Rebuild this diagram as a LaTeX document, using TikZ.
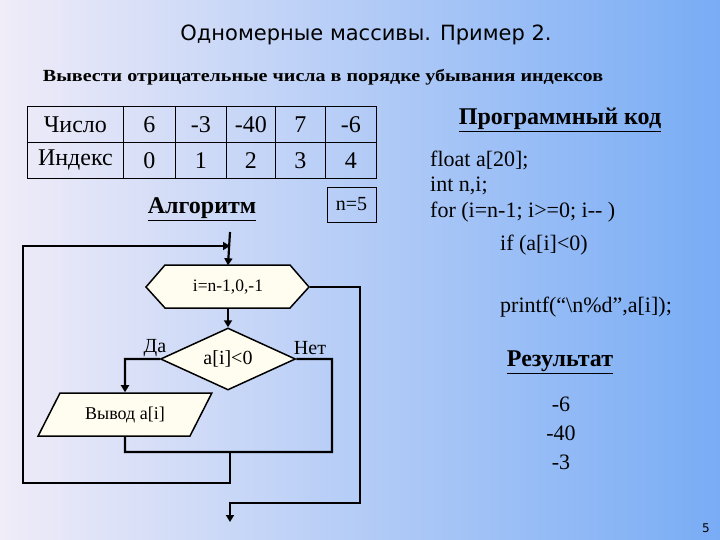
\documentclass[tikz,border=0pt]{standalone}
\usepackage{fontspec}
\setmainfont{Liberation Serif}
\newfontfamily\titlefont{DejaVu Sans}
\usetikzlibrary{shapes.geometric,arrows.meta}
\definecolor{bgl}{RGB}{240,236,248}
\definecolor{bgr}{RGB}{120,172,245}
\definecolor{fillc}{RGB}{255,253,240}
\tikzset{
 fl/.style={line width=2.2pt},
 arr/.style={fl,-{Triangle[length=7pt,width=8pt]}},
 shp/.style={draw,line width=1.5pt,fill=fillc},
 cell/.style={draw,line width=0.8pt,minimum height=36pt,font=\fontsize{24}{24}\selectfont,inner sep=0pt},
 code/.style={anchor=west,font=\fontsize{22}{22}\selectfont,inner sep=0pt},
 head/.style={font=\bfseries\fontsize{24}{24}\selectfont},
 res/.style={font=\fontsize{22}{22}\selectfont},
}
\begin{document}
\begin{tikzpicture}[x=1pt,y=-1pt]
\shade[left color=bgl,right color=bgr] (0,0) rectangle (720,540);
\useasboundingbox (0,0) rectangle (720,540);
\node[font=\titlefont\fontsize{21}{21}\selectfont] (title) at (366,35) {Одномерные массивы. Пример 2.};
\node[font=\bfseries\fontsize{17}{17}\selectfont,xscale=1.18] (sub) at (323,77) {Вывести отрицательные числа в порядке убывания индексов};
% table
\foreach \x/\w/\t/\b [count=\i] in {27/96/Число/Индекс,123/52/6/0,175/51/-3/1,226/49/-40/2,275/50/7/3,325/51/-6/4}{
 \node[cell,minimum width=\w pt,anchor=north west] (t\i) at (\x,106) {\t};
 \node[cell,minimum width=\w pt,anchor=north west] (b\i) at (\x,142) {\b};
}
\node[draw,line width=0.8pt,minimum width=49pt,minimum height=35pt,inner sep=0pt,font=\fontsize{20}{20}\selectfont] (n5) at (351.5,204.5) {n=5};
\node[head] (alg) at (202,209) {\underline{Алгоритм}};
% flowchart
\coordinate (top) at (230,232);
\node[minimum width=163pt,minimum height=43pt,inner sep=0pt,font=\fontsize{17.5}{17.5}\selectfont] (hex) at (228,287) {};
\draw[shp] (146,287) -- (165,265) -- (290,265) -- (309,287) -- (290,308) -- (165,308) -- cycle;
\node[font=\fontsize{17.5}{17.5}\selectfont] (hext) at (228,287) {i=n-1,0,-1};
\node[shp,diamond,aspect=2.2,minimum width=135pt,minimum height=62pt,inner sep=0pt,font=\fontsize{20}{20}\selectfont] (dia) at (228,359) {a[i]<0};
\node[shp,trapezium,trapezium left angle=50,trapezium right angle=-50,minimum width=174pt,minimum height=43pt,inner sep=0pt,font=\fontsize{18}{18}\selectfont,trapezium stretches=true] (out) at (125,414.5) {Вывод a[i]};
\node[font=\fontsize{20}{20}\selectfont] (da) at (155,348) {Да};
\node[font=\fontsize{20}{20}\selectfont] (net) at (310,348) {Нет};
\coordinate (m) at (230,452);
\coordinate (bot) at (230,522);
\draw[arr] (top) -- (hex.north);
\draw[arr] (hex.south) -- (dia.north);
\draw[arr] (dia.west) -- (125,359) -- (out.north);
\draw[fl] (out.south) -- (125,452) -- (332,452) -- (332,359) -- (dia.east);
\draw[arr] (m) -- (230,483) -- (23,483) -- (23,246) -- (230,246);
\draw[arr] (hex.east) -- (360,287) -- (360,503) -- (230,503) -- (bot);
% right side
\node[head] (prog) at (560,120) {\underline{Программный код}};
\node[code] (c1) at (430,160) {float a[20];};
\node[code] (c2) at (430,186) {int n,i;};
\node[code] (c3) at (430,212) {for (i=n-1; i>=0; i-{}- )};
\node[code] (c4) at (500,245) {if (a[i]<0)};
\node[code] (c5) at (500,307) {printf(“\textbackslash n\%d”,a[i]);};
\node[head] (res) at (560,362) {\underline{Результат}};
\node[res] (r1) at (561,404) {-6};
\node[res] (r2) at (561,433) {-40};
\node[res] (r3) at (561,462) {-3};
\node[font=\titlefont\fontsize{12}{12}\selectfont] (pg) at (706,528) {5};
\end{tikzpicture}
\end{document}
